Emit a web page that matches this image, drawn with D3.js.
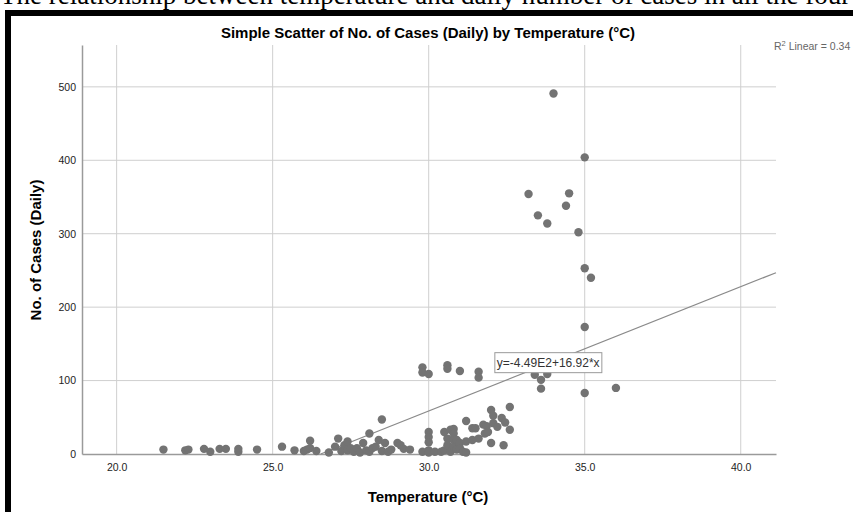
<!DOCTYPE html>
<html>
<head>
<meta charset="utf-8">
<script src="https://cdn.jsdelivr.net/npm/d3@7"></script>
<style>
  body { margin: 0; background: #fff; }
  svg { display: block; font-family: Arial, "Liberation Sans", sans-serif; }
</style>
</head>
<body>
<div id="chart"></div>
<script>
// temperature (°C) and daily cases
var temps = [21.5, 22.2, 22.3, 22.8, 23.0, 23.3, 23.5, 23.9, 23.9, 24.5,
	25.3, 25.7, 26.0, 26.1, 26.2, 26.2, 26.4, 26.8,
	27.0, 27.1, 27.2, 27.3, 27.4, 27.4, 27.5, 27.6, 27.7, 27.8, 27.9, 28.0, 28.1, 28.1, 28.2, 28.3, 28.4, 28.5, 28.5, 28.6, 28.7, 28.8, 29.0, 29.1, 29.2, 29.4, 29.8,
	29.8, 29.8, 30.0, 30.6, 30.6, 31.0, 31.6, 31.6,
	30.0, 30.0, 30.0, 30.0, 30.0, 30.2, 30.4, 30.5, 30.5, 30.6, 30.6, 30.7, 30.7, 30.8, 30.8, 30.8, 30.8, 30.9, 30.9, 31.0, 31.0, 31.1, 31.2, 31.2, 31.2, 31.4, 31.4, 31.5, 31.6, 31.75, 31.8, 31.86, 31.9, 32.0, 32.0, 32.07, 32.07, 32.2, 32.34, 32.4, 32.45, 32.6, 32.6,
	33.2, 33.4, 33.5, 33.6, 33.6, 33.8, 33.8, 34.0, 34.4, 34.5, 34.8, 35.0, 35.0, 35.0, 35.0, 35.2, 36.0];
var cases = [6, 5, 6, 7, 3, 7, 7, 7, 3, 6,
	10, 5, 4, 6, 18, 8, 4, 2,
	10, 21, 4, 12, 5, 17, 8, 3, 8, 2, 15, 5, 28, 3, 8, 10, 19, 47, 4, 15, 3, 6, 15, 12, 7, 6, 3,
	118, 111, 109, 121, 116, 113, 112, 104,
	30, 23, 16, 5, 2, 3, 3, 5, 30, 21, 12, 33, 3, 34, 19, 10, 28, 19, 6, 15, 8, 3, 2, 45, 17, 35, 19, 35, 21, 40, 28, 38, 30, 60, 15, 52, 42, 37, 49, 12, 43, 64, 33,
	354, 108, 325, 101, 89, 109, 314, 491, 338, 355, 302, 404, 253, 173, 83, 240, 90];

var xTicks = [20, 25, 30, 35, 40];
var yTicks = [0, 100, 200, 300, 400, 500];

// fit line
var intercept = -449, slope = 16.92;

function drawChart() {
	var width = 853, height = 512;
	var pLeft = 82, pRight = 776, pTop = 45, pBottom = 454;

	var svg = d3.select("#chart")
		.append("svg")
		.attr("width", width)
		.attr("height", height);

	// caption above the frame (cut off at the top)
	svg.append("text")
		.attr("x", 0)
		.attr("y", 4)
		.style("font-family", "'Liberation Serif', 'Times New Roman', serif")
		.style("font-size", "27px")
		.text("The relationship between temperature and daily number of cases in all the four");

	// black frame
	svg.append("rect").attr("x", 5).attr("y", 10).attr("width", width - 5).attr("height", 6).attr("fill", "#000");
	svg.append("rect").attr("x", 5).attr("y", 10).attr("width", 6).attr("height", height - 10).attr("fill", "#000");

	var x = d3.scaleLinear().domain([18.89, 41.13]).range([pLeft, pRight]);
	var y = d3.scaleLinear().domain([0, 557]).range([pBottom, pTop]);

	// grid
	svg.append("g")
		.selectAll("line")
		.data(xTicks)
		.enter().append("line")
		.attr("x1", function(d) { return x(d); })
		.attr("x2", function(d) { return x(d); })
		.attr("y1", pTop)
		.attr("y2", pBottom)
		.attr("stroke", "#cfcfcf")
		.attr("stroke-width", 1);
	svg.append("g")
		.selectAll("line")
		.data(yTicks.slice(1))
		.enter().append("line")
		.attr("x1", pLeft)
		.attr("x2", pRight)
		.attr("y1", function(d) { return y(d); })
		.attr("y2", function(d) { return y(d); })
		.attr("stroke", "#cfcfcf")
		.attr("stroke-width", 1);

	// axes
	var xAxis = svg.append("g")
		.attr("transform", "translate(0," + pBottom + ")")
		.call(d3.axisBottom(x).tickValues(xTicks).tickSize(0).tickPadding(10).tickFormat(d3.format(".1f")));
	var yAxis = svg.append("g")
		.attr("transform", "translate(" + pLeft + ",0)")
		.call(d3.axisLeft(y).tickValues(yTicks).tickSize(0).tickPadding(6));
	[xAxis, yAxis].forEach(function(a) {
		a.select(".domain").attr("stroke", "#9a9a9a").attr("stroke-width", 1.5);
		a.selectAll("text").style("font-size", "10.5px").style("font-family", "Arial, 'Liberation Sans', sans-serif").attr("fill", "#222");
	});

	// regression line, clipped at y = 0
	var x0 = -intercept / slope;
	var fit = d3.line()
		.x(function(d) { return x(d); })
		.y(function(d) { return y(intercept + slope * d); });
	svg.append("path")
		.datum([x0, x.domain()[1]])
		.attr("d", fit)
		.attr("stroke", "#8a8a8a")
		.attr("stroke-width", 1.2)
		.attr("fill", "none");

	// points
	svg.append("g")
		.selectAll("circle")
		.data(temps)
		.enter().append("circle")
		.attr("cx", function(d) { return x(d); })
		.attr("cy", function(d, i) { return y(cases[i]); })
		.attr("r", 4.2)
		.attr("fill", "#737373");

	// equation label
	var eq = svg.append("g").attr("transform", "translate(" + x(32.12) + "," + y(138) + ")");
	eq.append("rect")
		.attr("width", 107)
		.attr("height", 20)
		.attr("fill", "#fff")
		.attr("stroke", "#9a9a9a");
	eq.append("text")
		.attr("x", 2)
		.attr("y", 14.5)
		.style("font-size", "12px")
		.attr("fill", "#333")
		.text("y=-4.49E2+16.92*x");

	// R square
	var r2 = svg.append("text")
		.attr("x", 774)
		.attr("y", 50)
		.style("font-size", "10.5px")
		.attr("fill", "#666");
	r2.append("tspan").text("R");
	r2.append("tspan").attr("dy", -4).style("font-size", "7.5px").text("2");
	r2.append("tspan").attr("dy", 4).text(" Linear = 0.34");

	// title and axis labels
	svg.append("text")
		.attr("x", 428)
		.attr("y", 38)
		.style("text-anchor", "middle")
		.style("font-size", "15px")
		.style("font-weight", "bold")
		.text("Simple Scatter of No. of Cases (Daily) by Temperature (°C)");
	svg.append("text")
		.attr("x", 428)
		.attr("y", 502)
		.style("text-anchor", "middle")
		.style("font-size", "15px")
		.style("font-weight", "bold")
		.text("Temperature (°C)");
	svg.append("text")
		.attr("transform", "rotate(-90)")
		.attr("x", -250)
		.attr("y", 41)
		.style("text-anchor", "middle")
		.style("font-size", "15px")
		.style("font-weight", "bold")
		.text("No. of Cases (Daily)");
}

drawChart();
</script>
</body>
</html>
